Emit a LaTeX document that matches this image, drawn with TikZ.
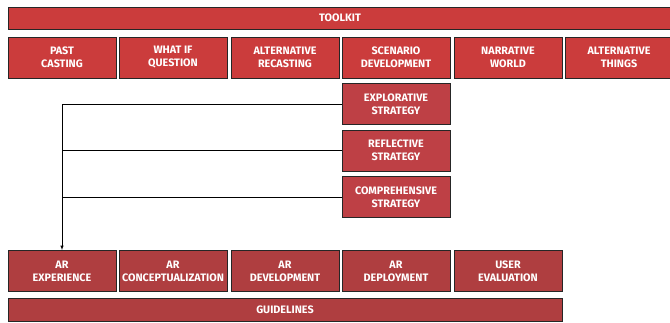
\documentclass[tikz,border=0pt]{standalone}
\usepackage{fontspec}
\setmainfont{Fira Sans}
\definecolor{toolred}{HTML}{CB3C3C}
\definecolor{stratred}{HTML}{BE4045}
\definecolor{guidered}{HTML}{AF3E40}
\begin{document}
\begin{tikzpicture}[x=1pt, y=-1pt,
    box/.style={rectangle, draw=black!85, line width=0.8pt, text=white, align=center,
                font=\fontsize{10.8}{13}\selectfont\bfseries, inner sep=0pt,
                minimum width=108pt, minimum height=41pt},
    tool/.style={box, fill=toolred},
    strat/.style={box, fill=stratred},
    guide/.style={box, fill=guidered}]
        \useasboundingbox (0,0) rectangle (670,322);

        \node[tool, minimum width=664pt, minimum height=22pt] at (340, 18)  (toolkit)  {TOOLKIT};
        \node[tool] at (62, 57.5)   (past)      {PAST\\CASTING};
        \node[tool] at (173, 57.5)  (whatif)    {WHAT IF\\QUESTION};
        \node[tool] at (285, 57.5)  (recast)    {ALTERNATIVE\\RECASTING};
        \node[tool] at (396, 57.5)  (scenario)  {SCENARIO\\DEVELOPMENT};
        \node[tool] at (508, 57.5)  (narrative) {NARRATIVE\\WORLD};
        \node[tool] at (619, 57.5)  (things)    {ALTERNATIVE\\THINGS};

        \node[strat] at (396, 104)   (explo)  {EXPLORATIVE\\STRATEGY};
        \node[strat] at (396, 150.5) (reflec) {REFLECTIVE\\STRATEGY};
        \node[strat] at (396, 197)   (compre) {COMPREHENSIVE\\STRATEGY};

        \node[guide] at (62, 271)   (arexp)  {AR\\EXPERIENCE};
        \node[guide] at (173, 271)  (arconc) {AR\\CONCEPTUALIZATION};
        \node[guide] at (285, 271)  (ardev)  {AR\\DEVELOPMENT};
        \node[guide] at (396, 271)  (ardep)  {AR\\DEPLOYMENT};
        \node[guide] at (508, 271)  (usereval) {USER\\EVALUATION};
        \node[guide, minimum width=554pt, minimum height=23pt] at (285, 309.5) (guidelines) {GUIDELINES};

        \draw[-latex, line width=0.6pt] (explo.west) -- (explo.west -| arexp.north) -- (arexp.north);
        \draw[line width=0.6pt] (reflec.west) -- (reflec.west -| arexp.north);
        \draw[line width=0.6pt] (compre.west) -- (compre.west -| arexp.north);
\end{tikzpicture}
\end{document}
